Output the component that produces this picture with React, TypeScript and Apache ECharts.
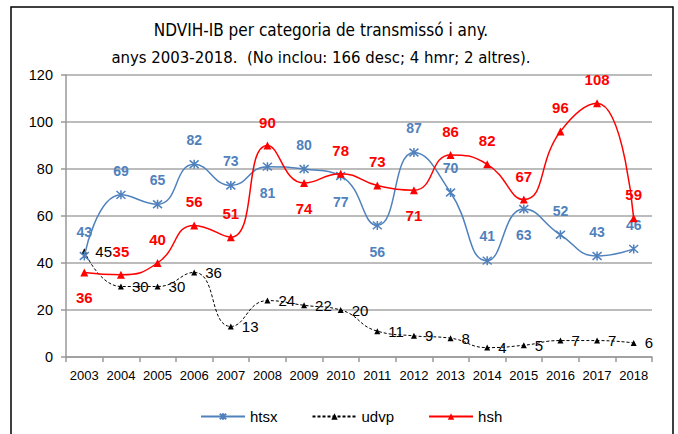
import React, { useEffect, useRef } from "react";
import * as echarts from "echarts";

const years = ["2003","2004","2005","2006","2007","2008","2009","2010","2011","2012","2013","2014","2015","2016","2017","2018"];
const htsx = [43, 69, 65, 82, 73, 81, 80, 77, 56, 87, 70, 41, 63, 52, 43, 46];
const udvp = [45, 30, 30, 36, 13, 24, 22, 20, 11, 9, 8, 4, 5, 7, 7, 6];
const hsh = [36, 35, 40, 56, 51, 90, 74, 78, 73, 71, 86, 82, 67, 96, 108, 59];
const htsxBelow = ["2008", "2010", "2011", "2015"];
const hshBelow = ["2003", "2009", "2012"];
const yTicks = [0, 20, 40, 60, 80, 100, 120];

const TFONT = "'DejaVu Sans Condensed', 'Liberation Sans', sans-serif";
const FONT = "'Liberation Sans', Arial, sans-serif";
const BLUE = "#4F81BD";
const RED = "#FF0000";
const STAR = "path://M0,-5L0,5M-4.3,-4.3L4.3,4.3M-4.3,4.3L4.3,-4.3";

export default function App() {
  const ref = useRef<HTMLDivElement>(null);
  useEffect(() => {
    if (!ref.current) return;
    const chart = echarts.init(ref.current, null, { renderer: "svg" });
    const option = {
      animation: false,
      backgroundColor: "#fff",
      textStyle: { fontFamily: FONT },
      graphic: [
        { type: "rect", shape: { x: 11, y: 7, width: 662, height: 440 }, style: { fill: "none", stroke: "#000", lineWidth: 1.5 }, silent: true },
        { type: "text", x: 321, y: 30, style: { text: "NDVIH-IB per categoria de transmissó i any.", font: `17px ${TFONT}`, fill: "#000", textAlign: "center", textVerticalAlign: "middle" } },
        { type: "text", x: 321, y: 57, style: { text: "anys 2003-2018.  (No inclou: 166 desc; 4 hmr; 2 altres).", font: `16.6px ${TFONT}`, fill: "#000", textAlign: "center", textVerticalAlign: "middle" } },
      ],
      grid: { left: 66, right: 26, top: 75, bottom: 77 },
      legend: {
        bottom: 10,
        left: 200,
        padding: 0,
        itemWidth: 44,
        itemHeight: 8,
        itemGap: 34,
        textStyle: { fontFamily: FONT, fontSize: 15, color: "#000" },
        data: ["htsx", "udvp", "hsh"],
      },
      xAxis: {
        type: "category",
        data: years,
        boundaryGap: true,
        axisLine: { lineStyle: { color: "#999", width: 1.5 } },
        axisTick: { show: true, alignWithLabel: false, interval: 0, length: 5, lineStyle: { color: "#999", width: 1.5 } },
        axisLabel: { color: "#000", fontSize: 13, fontFamily: FONT, margin: 12, interval: 0 },
      },
      yAxis: {
        type: "value",
        min: yTicks[0],
        max: yTicks[yTicks.length - 1],
        interval: 20,
        axisLine: { show: true, lineStyle: { color: "#999", width: 1.5 } },
        axisTick: { show: true, length: 5, lineStyle: { color: "#999", width: 1.5 } },
        axisLabel: { color: "#000", fontSize: 14.5, fontFamily: FONT, margin: 13 },
        splitLine: { lineStyle: { color: "#a6a6a6", width: 1.5 } },
      },
      series: [
        {
          name: "htsx",
          type: "line",
          smooth: 0.5,
          data: htsx.map((v, i) => ({
            value: v,
            label: htsxBelow.includes(years[i]) ? { position: "bottom", distance: 14 } : { position: "top", distance: 12 },
          })),
          symbol: STAR,
          symbolSize: 9,
          itemStyle: { color: BLUE, borderColor: BLUE, borderWidth: 1.5 },
          lineStyle: { color: BLUE, width: 1.5 },
          label: { show: true, color: BLUE, fontWeight: "bold", fontSize: 14, fontFamily: FONT },
          z: 3,
        },
        {
          name: "udvp",
          type: "line",
          smooth: 0.5,
          data: udvp,
          symbol: "triangle",
          symbolSize: 6,
          itemStyle: { color: "#000" },
          lineStyle: { color: "#000", width: 1, type: [3, 2] },
          label: { show: true, position: "right", distance: 8, color: "#000", fontSize: 15, fontFamily: FONT },
          z: 2,
        },
        {
          name: "hsh",
          type: "line",
          smooth: 0.5,
          data: hsh.map((v, i) => ({
            value: v,
            label: hshBelow.includes(years[i]) ? { position: "bottom", distance: 14 } : { position: "top", distance: 12 },
          })),
          symbol: "triangle",
          symbolSize: 8,
          itemStyle: { color: RED },
          lineStyle: { color: RED, width: 1.5 },
          label: { show: true, color: RED, fontWeight: "bold", fontSize: 15, fontFamily: FONT },
          z: 4,
        },
      ],
    };
    chart.setOption(option as any);
    return () => chart.dispose();
  }, []);
  return <div ref={ref} style={{ position: "fixed", left: 0, top: 0, width: 678, height: 434 }} />;
}
